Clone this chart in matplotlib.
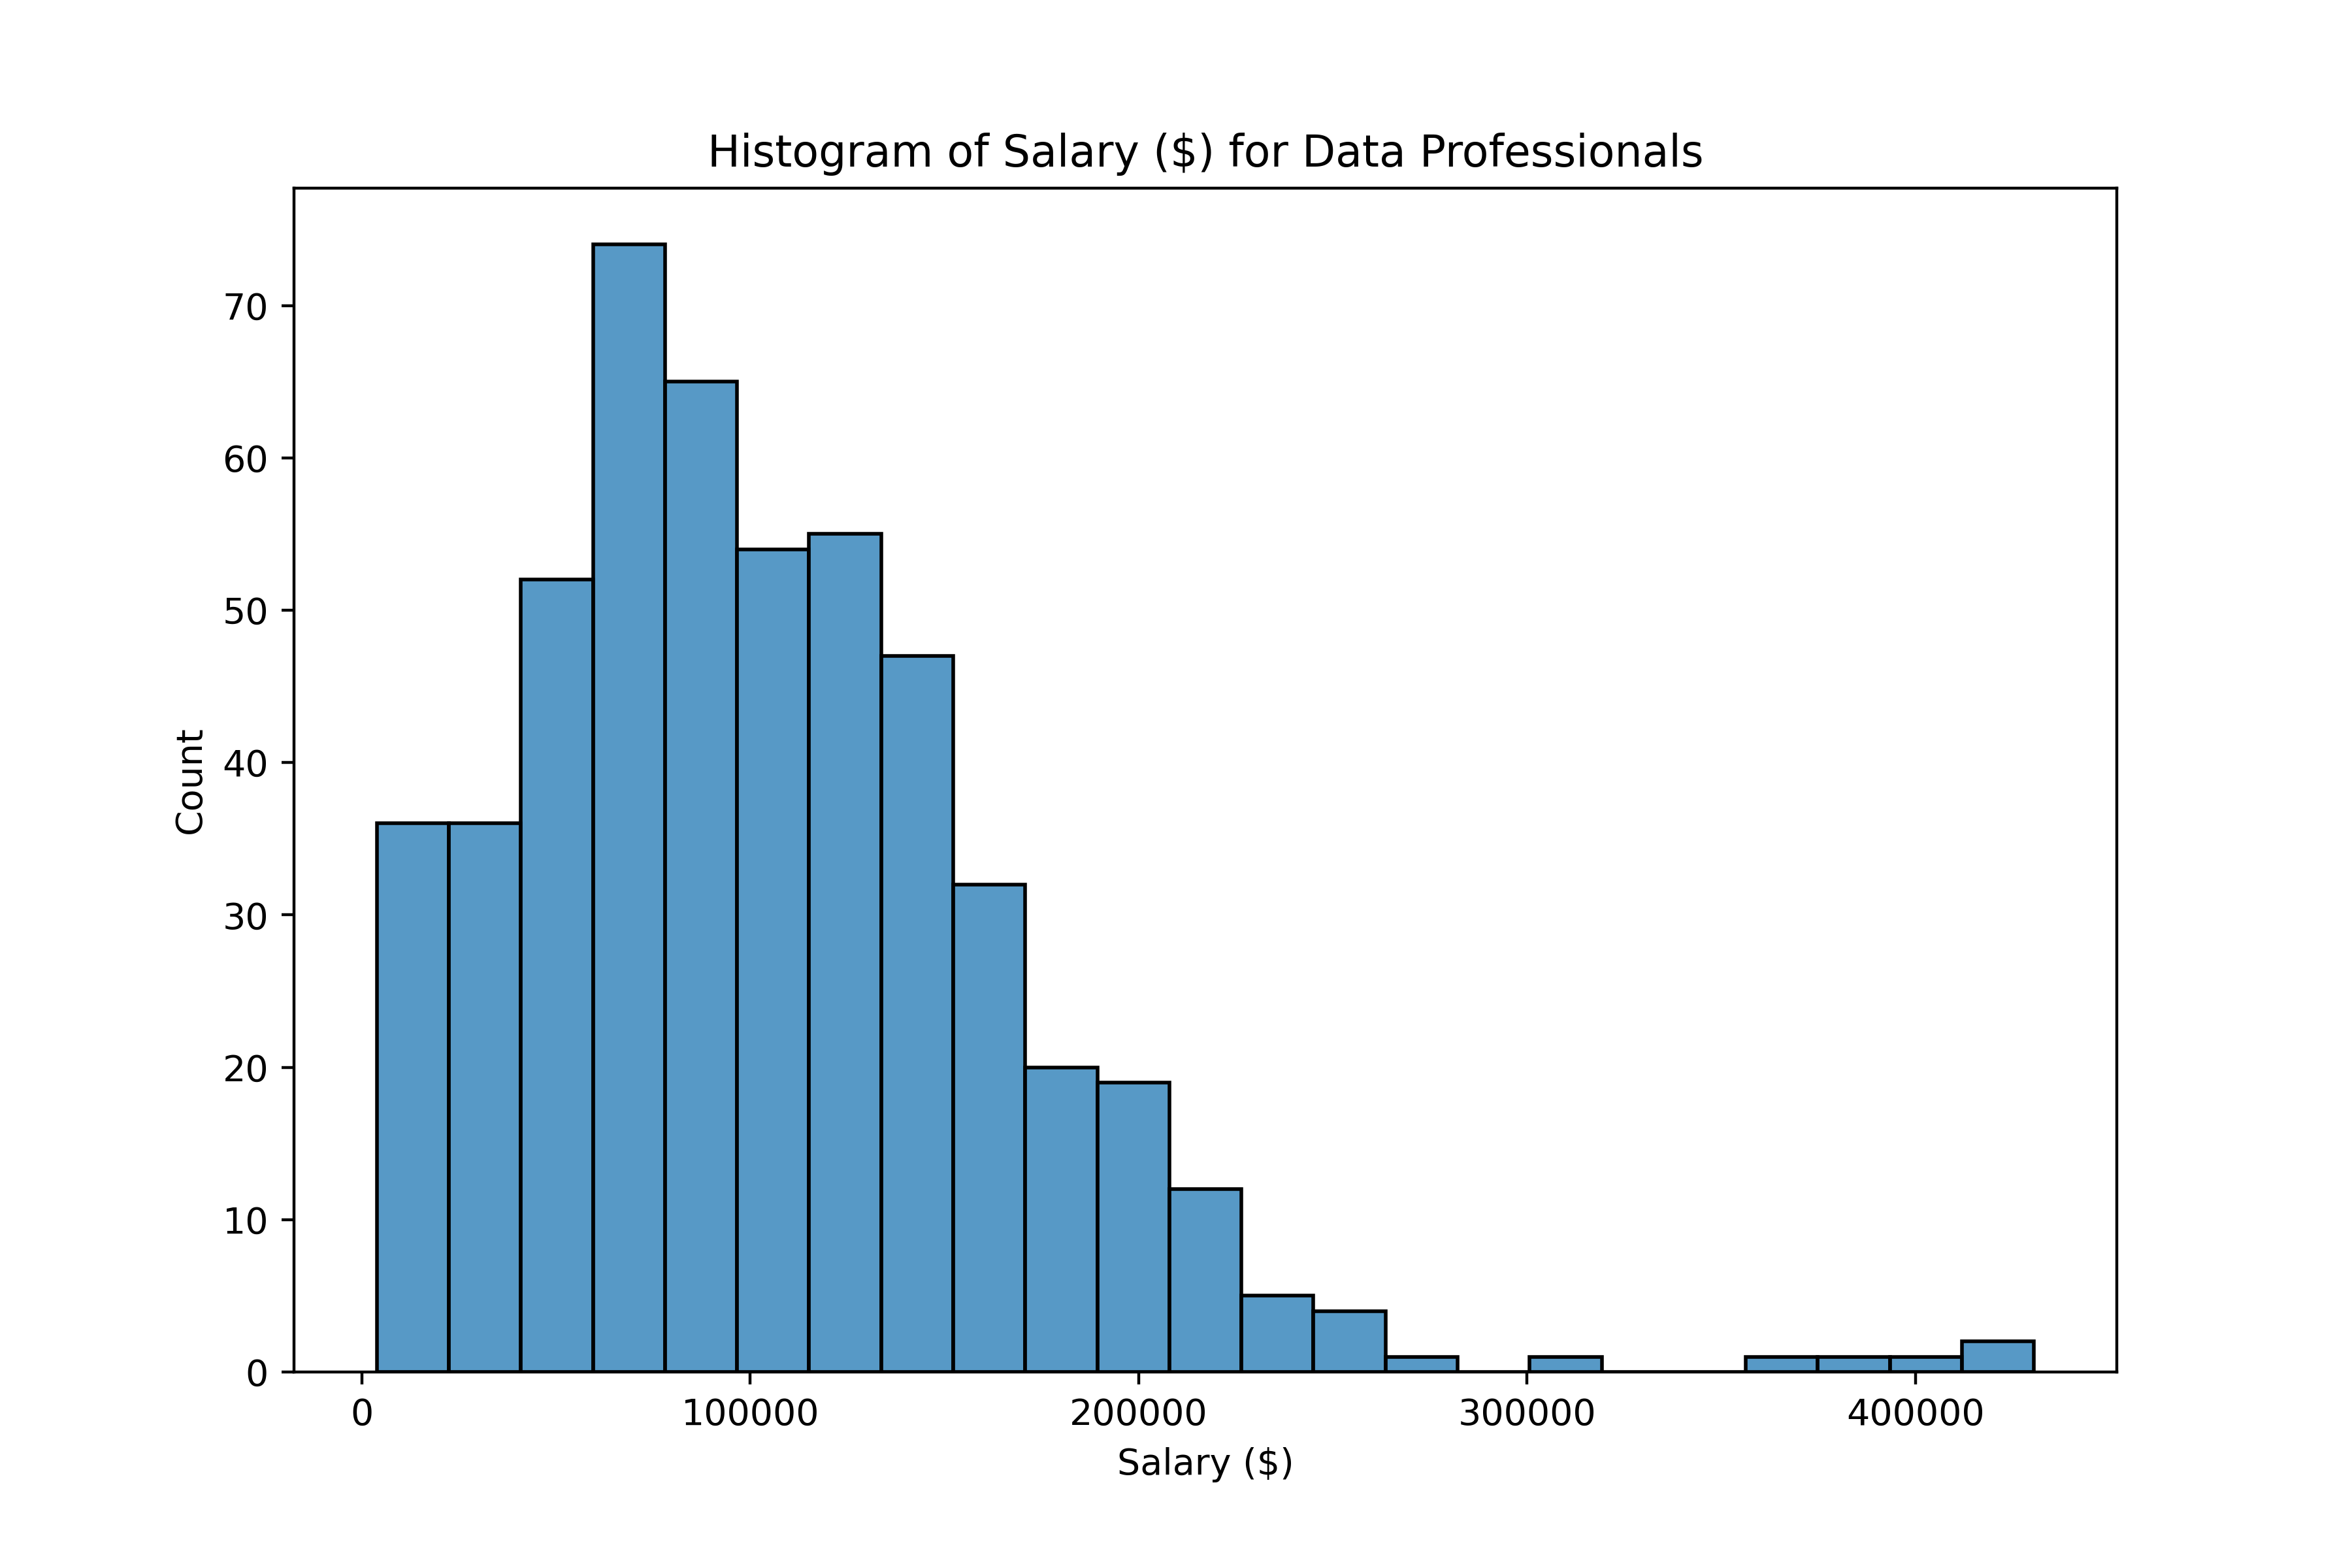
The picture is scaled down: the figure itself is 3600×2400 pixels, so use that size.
import matplotlib
matplotlib.use("Agg")
import matplotlib.pyplot as plt
import numpy as np

# histogram of salaries, 23 equal-width bins
bin_start = 3860
bin_stop = 430500
counts = [36, 36, 52, 74, 65, 54, 55, 47, 32, 20, 19, 12, 5, 4, 1,
          0, 1, 0, 0, 1, 1, 1, 2]

edges = np.linspace(bin_start, bin_stop, len(counts) + 1)
widths = np.diff(edges)

fig, ax = plt.subplots(figsize=(9, 6), dpi=400)
fig.subplots_adjust(left=0.125, right=0.9, top=0.88, bottom=0.125)

# seaborn-like histplot bars: C0 with alpha, black edges
face = matplotlib.colors.to_rgba("#1f77b4", 0.75)
ax.bar(edges[:-1], counts, width=widths, align="edge",
       facecolor=face, edgecolor="black", linewidth=1.0)

ax.set_title("Histogram of Salary ($) for Data Professionals")
ax.set_xlabel("Salary ($)")
ax.set_ylabel("Count")

fig.savefig("out.png", dpi=400)
